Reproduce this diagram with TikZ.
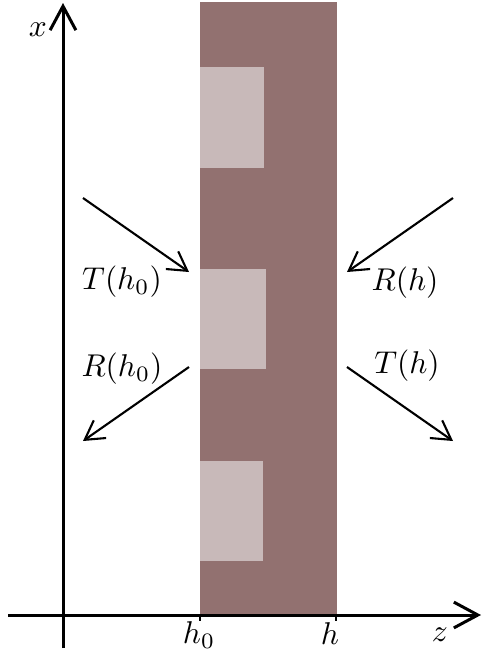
\documentclass[tikz,border=0pt]{standalone}
\usetikzlibrary{arrows.meta}
\definecolor{slabdark}{RGB}{146,113,112}
\definecolor{slablight}{RGB}{200,185,185}
\begin{document}
\begin{tikzpicture}[x=0.33333pt,y=-0.33333pt,
  axis/.style={line width=1pt,-{Straight Barb[length=8pt,width=8.6pt,line width=1pt]}},
  wave/.style={line width=0.7pt,-{Straight Barb[length=6.2pt,width=7.2pt,line width=0.7pt]}},
  lbl/.style={inner sep=0pt,scale=1.05}]
\useasboundingbox (0,0) rectangle (482,652);
% slab
\fill[slabdark] (200,2) rectangle (337,615);
\fill[slablight] (200,67) rectangle (264,168);
\fill[slablight] (200,269) rectangle (266,369);
\fill[slablight] (200,461) rectangle (263,561);
% axes
\coordinate (xs) at (63,648);
\coordinate (xe) at (63,3);
\coordinate (zs) at (8,615);
\coordinate (ze) at (481,615);
\draw[axis] (xs) -- (xe);
\draw[axis] (zs) -- (ze);
\node[lbl] (xl) at (38,30) {$x$};
\node[lbl] (zl) at (440,635) {$z$};
% ticks
\coordinate (t0) at (200,615);
\coordinate (t1) at (336,615);
\draw[line width=0.4pt] (t0) -- ++(0,6);
\draw[line width=0.4pt] (t1) -- ++(0,6);
\node[lbl] (h0l) at (199,635) {$h_0$};
\node[lbl] (hl) at (330,634) {$h$};
% arrows
\coordinate (a1s) at (83,198);
\coordinate (a1e) at (189,272);
\coordinate (a2s) at (189,367);
\coordinate (a2e) at (83,441);
\coordinate (a3s) at (453,198);
\coordinate (a3e) at (347,272);
\coordinate (a4s) at (347,367);
\coordinate (a4e) at (453,441);
\draw[wave] (a1s) -- (a1e);
\draw[wave] (a2s) -- (a2e);
\draw[wave] (a3s) -- (a3e);
\draw[wave] (a4s) -- (a4e);
\node[lbl] (Th0) at (122,282) {$T(h_0)$};
\node[lbl] (Rh0) at (122,369) {$R(h_0)$};
\node[lbl] (Rh) at (405,283) {$R(h)$};
\node[lbl] (Th) at (407,366) {$T(h)$};
\end{tikzpicture}
\end{document}
